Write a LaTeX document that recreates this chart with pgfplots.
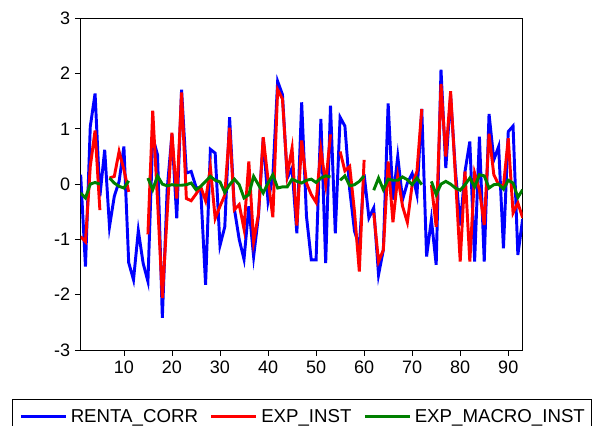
\documentclass[border=0pt]{standalone}
\usepackage{fontspec}
\setmainfont{Liberation Sans}
\usepackage{pgfplots}
\usepackage{pgfplotstable}
\pgfplotsset{compat=1.18}
\definecolor{ebl}{RGB}{0,0,255}
\definecolor{erd}{RGB}{255,0,0}
\definecolor{egr}{RGB}{0,128,0}
\pgfplotstableread{
x renta exp macro
1 0.17 -0.95 -0.16
2 -1.49 -1.04 -0.25
3 1.04 0.32 0.00
4 1.64 0.97 0.03
5 -0.22 -0.47 0.00
6 0.62 nan nan
7 -0.77 0.11 0.11
8 -0.22 0.14 0.02
9 0.05 0.59 -0.04
10 0.68 0.26 -0.07
11 -1.42 -0.14 0.06
12 -1.73 nan nan
13 -0.84 nan nan
14 -1.43 nan nan
15 -1.76 -0.91 0.11
16 0.85 1.33 -0.10
17 0.53 -0.30 0.15
18 -2.42 -2.06 0.00
19 -0.10 -0.55 -0.03
20 0.90 0.93 -0.01
21 -0.62 -0.26 -0.02
22 1.71 1.66 -0.02
23 0.20 -0.26 -0.01
24 0.23 -0.30 0.02
25 -0.05 -0.18 -0.10
26 -0.12 -0.05 -0.04
27 -1.82 -0.30 0.05
28 0.63 0.30 0.14
29 0.56 -0.62 0.07
30 -1.11 -0.40 0.04
31 -0.77 -0.20 -0.15
32 1.21 1.02 -0.01
33 -0.45 -0.46 0.09
34 -1.00 -0.37 -0.01
35 -1.36 -0.81 -0.25
36 -0.40 0.41 -0.19
37 -1.31 -1.04 0.14
38 -0.58 -0.55 -0.01
39 0.83 0.85 -0.16
40 -0.31 0.08 0.02
41 0.14 -0.60 0.17
42 1.86 1.71 -0.07
43 1.62 1.54 -0.05
44 0.11 0.17 -0.05
45 0.29 0.65 0.09
46 -0.89 -0.75 0.05
47 1.48 0.79 0.02
48 -0.58 0.02 0.07
49 -1.37 -0.19 0.09
50 -1.37 -0.33 0.03
51 1.18 0.62 0.11
52 -1.43 0.00 0.15
53 1.42 0.90 0.13
54 -0.89 nan nan
55 1.21 0.59 0.07
56 1.05 0.24 0.15
57 -0.10 0.32 -0.03
58 -0.85 -0.50 -0.01
59 -1.13 -1.58 0.05
60 0.18 0.44 0.15
61 -0.61 nan nan
62 -0.43 -0.52 -0.11
63 -1.64 -1.40 0.11
64 -1.19 -1.19 -0.10
65 1.46 0.41 0.09
66 -0.28 -0.69 0.07
67 0.50 0.14 0.07
68 -0.28 -0.40 0.13
69 0.02 -0.69 0.08
70 0.19 -0.01 -0.01
71 -0.19 0.23 0.11
72 1.36 1.36 -0.01
73 -1.31 nan nan
74 -0.64 -0.01 0.05
75 -1.46 -0.77 -0.19
76 2.07 1.81 0.00
77 0.29 0.50 0.05
78 1.60 1.68 0.00
79 0.25 0.15 -0.07
80 -0.75 -1.40 -0.11
81 0.23 0.23 -0.01
82 0.77 -1.40 0.11
83 -1.40 0.20 -0.05
84 0.86 -0.10 0.17
85 -1.40 -0.74 0.15
86 1.27 0.91 -0.07
87 0.44 0.17 -0.01
88 0.68 -0.01 0.00
89 -1.16 -0.04 -0.09
90 0.95 0.83 0.07
91 1.05 -0.52 0.02
92 -1.28 -0.34 -0.24
93 -0.63 -0.61 -0.10
}\datatable
\begin{document}
\begin{tikzpicture}
\useasboundingbox (0,0) rectangle (444pt,318.75pt);
\begin{axis}[
  at={(60.5pt,56.25pt)}, anchor=south west,
  width=331.5pt, height=248.8pt, scale only axis,
  xmin=1, xmax=93, ymin=-3, ymax=3,
  xtick={10,20,...,90}, ytick={-3,-2,...,3},
  tick align=outside, xtick pos=left, ytick pos=left,
  major tick length=4.3pt,
  tick style={black, line width=0.6pt},
  axis line style={black, line width=0.75pt},
  ticklabel style={font=\fontsize{13.5}{16}\selectfont},
  /pgf/number format/assume math mode=true,
  unbounded coords=jump,
  legend columns=3,
  legend image code/.code={\draw[#1] (0pt,0pt) -- (33.75pt,0pt);},
  legend style={at={(-0.1543,-0.1477)}, anchor=north west,
    draw=black, line width=0.75pt, inner xsep=4.9pt, inner ysep=7.6pt,
    font=\fontsize{14}{16}\selectfont,
    nodes={inner sep=0pt, text depth=0pt},
    column sep=2.5pt},
]
\addplot[ebl, line width=2.2pt] table[x=x, y=renta] {\datatable};
\addlegendentry{RENTA\_CORR\hspace*{6.5pt}}
\addplot[erd, line width=2.2pt] table[x=x, y=exp] {\datatable};
\addlegendentry{EXP\_INST\hspace*{6.5pt}}
\addplot[egr, line width=2.2pt] table[x=x, y=macro] {\datatable};
\addlegendentry{EXP\_MACRO\_INST}
\end{axis}
\end{tikzpicture}
\end{document}
